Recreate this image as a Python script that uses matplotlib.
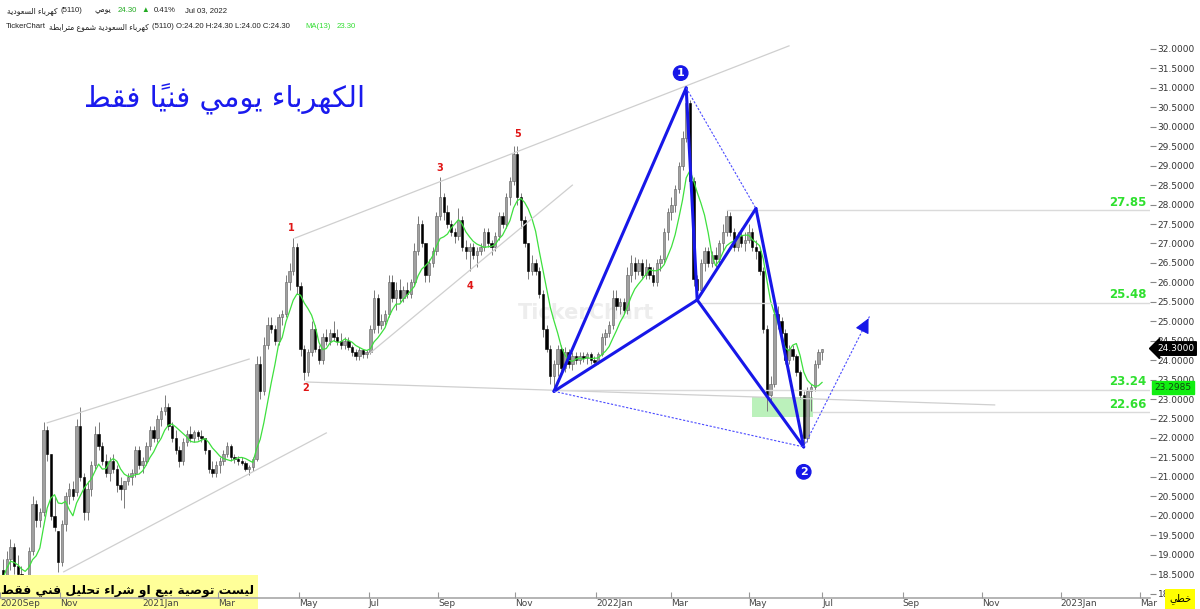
import numpy as np
import pandas as pd
import matplotlib
matplotlib.use('Agg')
import matplotlib.pyplot as plt
import matplotlib.transforms as mtransforms
from matplotlib.patches import Rectangle

# ---------------- data ----------------
# one candle per two trading days, last one is Jul 03, 2022
last_date = '2022-07-03'
opens = [18.6, 18.4, 18.9, 19.2, 18.7, 18.5, 18.1, 18.0, 19.1, 20.3, 19.9, 20.1, 22.2, 21.6,
         20.0, 19.6, 18.8, 19.8, 20.5, 20.7, 20.6, 22.3, 21.0, 20.1, 20.7, 21.3, 22.1, 21.8,
         21.4, 21.1, 21.4, 21.2, 20.8, 20.7, 20.9, 21.0, 21.1, 21.7, 21.3, 21.4, 21.8, 22.2,
         22.0, 22.5, 22.7, 22.8, 22.3, 22.0, 21.7, 21.4, 21.9, 22.1, 22.0, 22.15, 22.05, 22.0,
         21.7, 21.2, 21.1, 21.3, 21.4, 21.6, 21.8, 21.5, 21.45, 21.4, 21.35, 21.2, 21.25, 21.45,
         23.9, 23.2, 24.4, 24.9, 24.8, 24.5, 25.1, 25.2, 26.0, 26.3, 26.9, 25.9, 24.3, 23.7,
         24.2, 24.8, 24.3, 24.0, 24.6, 24.5, 24.7, 24.6, 24.5, 24.4, 24.5, 24.35, 24.2, 24.1,
         24.25, 24.15, 24.2, 24.8, 25.6, 24.9, 25.0, 25.2, 26.0, 25.6, 25.8, 25.6, 25.8, 25.7,
         26.0, 26.8, 27.5, 27.0, 26.2, 26.5, 26.8, 27.7, 28.2, 27.8, 27.5, 27.3, 27.2, 27.6,
         26.9, 26.8, 26.9, 26.7, 26.8, 26.9, 27.3, 27.0, 26.9, 27.2, 27.7, 27.5, 28.2, 28.6,
         29.3, 28.2, 27.6, 27.0, 26.3, 26.5, 26.3, 25.7, 24.8, 24.3, 23.6, 23.9, 24.3, 23.8,
         24.2, 23.9, 24.1, 24.0, 24.1, 24.05, 24.15, 24.0, 23.95, 24.15, 24.6, 24.7, 24.9, 25.6,
         25.4, 25.5, 25.3, 26.2, 26.5, 26.3, 26.5, 26.2, 26.4, 26.2, 26.0, 26.5, 26.6, 27.3,
         27.8, 28.0, 28.4, 29.0, 29.7, 30.6, 28.6, 26.1, 25.8, 26.5, 26.8, 26.5, 26.7, 26.6,
         27.0, 27.3, 27.7, 27.3, 26.9, 27.2, 27.0, 27.1, 27.3, 26.9, 26.8, 26.3, 24.8, 23.1,
         23.4, 25.2, 25.0, 24.7, 24.0, 24.3, 24.1, 23.7, 23.1, 22.0, 23.2, 23.3, 23.9, 24.2]
highs = [18.9, 19.1, 19.4, 19.3, 19.0, 18.7, 18.4, 19.2, 20.5, 20.4, 20.2, 22.4, 22.3, 21.6,
         20.5, 19.6, 19.9, 20.6, 20.85, 20.9, 22.5, 22.8, 21.1, 20.9, 21.4, 22.3, 22.4, 21.9,
         21.6, 21.5, 21.6, 21.3, 21.0, 20.9, 21.1, 21.2, 21.8, 21.8, 21.5, 21.9, 22.3, 22.3,
         22.6, 22.8, 23.1, 22.9, 22.4, 22.2, 21.8, 22.0, 22.2, 22.3, 22.2, 22.2, 22.2, 22.0,
         21.7, 21.4, 21.4, 21.5, 21.7, 21.9, 21.85, 21.6, 21.55, 21.5, 21.4, 21.3, 21.5, 24.1,
         24.1, 24.6, 25.1, 25.1, 24.9, 25.2, 25.3, 26.2, 26.5, 27.15, 27.0, 26.0, 24.4, 24.3,
         25.0, 24.9, 24.4, 24.7, 24.8, 24.8, 25.0, 24.8, 24.7, 24.6, 24.6, 24.4, 24.3, 24.35,
         24.3, 24.25, 24.9, 25.8, 25.7, 25.2, 25.3, 26.2, 26.2, 26.0, 26.1, 25.9, 26.0, 26.1,
         27.0, 27.7, 27.6, 27.0, 26.6, 26.9, 27.8, 28.7, 28.3, 28.0, 27.6, 27.4, 27.9, 27.7,
         27.1, 27.0, 27.0, 26.9, 27.0, 27.4, 27.4, 27.1, 27.3, 27.8, 27.8, 28.3, 28.7, 29.5,
         29.5, 28.3, 27.7, 27.0, 26.7, 26.6, 26.4, 25.8, 24.9, 24.4, 24.0, 24.4, 24.4, 24.35,
         24.3, 24.2, 24.2, 24.2, 24.2, 24.2, 24.2, 24.1, 24.2, 24.7, 24.8, 25.0, 25.8, 25.8,
         25.6, 25.6, 26.4, 26.7, 26.65, 26.6, 26.6, 26.6, 26.5, 26.4, 26.6, 26.7, 27.4, 27.9,
         28.2, 28.5, 29.1, 29.9, 31.0, 30.7, 28.7, 26.2, 26.6, 26.9, 26.9, 26.8, 26.9, 27.1,
         27.5, 27.85, 27.8, 27.4, 27.3, 27.4, 27.3, 27.5, 27.4, 27.1, 26.9, 26.4, 24.9, 23.6,
         25.4, 25.4, 25.1, 24.8, 24.4, 24.4, 24.15, 23.75, 23.2, 23.3, 23.4, 24.0, 24.3, 24.3]
lows = [18.2, 18.3, 18.6, 18.5, 18.3, 17.9, 17.7, 17.8, 19.0, 19.7, 19.7, 20.0, 21.4, 19.9,
        19.6, 18.55, 18.7, 19.6, 20.3, 20.4, 20.5, 20.9, 19.9, 19.9, 20.5, 21.2, 21.7, 21.3,
        21.0, 20.9, 21.1, 20.6, 20.4, 20.2, 20.8, 20.8, 21.0, 21.2, 21.1, 21.3, 21.7, 21.9,
        21.9, 22.3, 22.6, 22.2, 21.9, 21.6, 21.25, 21.3, 21.8, 21.9, 21.9, 21.95, 21.9, 21.6,
        21.1, 21.0, 21.0, 21.1, 21.3, 21.5, 21.4, 21.35, 21.3, 21.3, 21.15, 21.05, 21.15, 21.4,
        23.0, 23.1, 24.3, 24.7, 24.4, 24.4, 24.9, 25.1, 25.8, 26.2, 25.7, 24.1, 23.5, 23.6,
        24.1, 24.2, 23.9, 23.9, 24.4, 24.4, 24.5, 24.4, 24.3, 24.3, 24.25, 24.1, 24.0, 24.0,
        24.05, 24.05, 24.15, 24.7, 24.7, 24.8, 24.9, 25.1, 25.5, 25.3, 25.5, 25.5, 25.6, 25.6,
        25.9, 26.7, 26.9, 26.0, 26.0, 26.4, 26.7, 27.6, 27.6, 27.4, 27.2, 27.0, 27.1, 26.8,
        26.6, 26.3, 26.6, 26.4, 26.7, 26.8, 26.9, 26.7, 26.8, 27.1, 27.4, 27.4, 28.0, 28.5,
        28.0, 27.4, 26.9, 26.1, 26.2, 26.2, 25.6, 24.6, 24.2, 23.4, 23.2, 23.6, 23.7, 23.7,
        23.8, 23.75, 23.9, 23.9, 23.95, 23.9, 23.9, 23.85, 23.9, 24.1, 24.4, 24.6, 24.8, 25.3,
        25.2, 25.2, 25.2, 26.0, 26.1, 26.2, 26.1, 26.1, 26.1, 25.9, 25.9, 26.3, 26.5, 27.1,
        27.6, 27.8, 28.3, 28.9, 29.6, 28.4, 25.9, 25.55, 25.7, 26.3, 26.4, 26.4, 26.4, 26.5,
        26.8, 27.2, 27.2, 26.8, 26.8, 26.9, 26.8, 27.0, 26.8, 26.6, 26.2, 24.7, 22.7, 22.9,
        23.3, 24.8, 24.6, 23.9, 23.9, 24.0, 23.6, 23.0, 21.8, 21.9, 22.7, 23.2, 23.8, 24.0]
closes = [18.4, 18.9, 19.2, 18.7, 18.5, 18.1, 18.2, 19.1, 20.3, 19.9, 20.1, 22.2, 21.6, 20.0,
          19.7, 18.8, 19.8, 20.5, 20.7, 20.5, 22.3, 21.0, 20.1, 20.7, 21.3, 22.1, 21.8, 21.4,
          21.1, 21.4, 21.2, 20.8, 20.7, 20.9, 21.0, 21.1, 21.7, 21.3, 21.4, 21.8, 22.2, 22.0,
          22.5, 22.7, 22.8, 22.3, 22.0, 21.7, 21.4, 21.9, 22.1, 22.0, 22.15, 22.05, 22.0, 21.7,
          21.2, 21.1, 21.3, 21.4, 21.6, 21.8, 21.5, 21.45, 21.4, 21.35, 21.2, 21.25, 21.45, 23.9,
          23.2, 24.4, 24.9, 24.8, 24.5, 25.1, 25.2, 26.0, 26.3, 26.9, 25.9, 24.3, 23.7, 24.2,
          24.8, 24.3, 24.0, 24.6, 24.5, 24.7, 24.6, 24.5, 24.4, 24.5, 24.35, 24.2, 24.1, 24.25,
          24.15, 24.2, 24.8, 25.6, 24.9, 25.0, 25.2, 26.0, 25.6, 25.8, 25.6, 25.8, 25.7, 26.0,
          26.8, 27.5, 27.0, 26.2, 26.5, 26.8, 27.7, 28.2, 27.8, 27.5, 27.3, 27.2, 27.6, 26.9,
          26.8, 26.9, 26.7, 26.8, 26.9, 27.3, 27.0, 26.9, 27.2, 27.7, 27.5, 28.2, 28.6, 29.3,
          28.2, 27.6, 27.0, 26.3, 26.5, 26.3, 25.7, 24.8, 24.3, 23.6, 23.9, 24.3, 23.8, 24.2,
          23.9, 24.1, 24.0, 24.1, 24.05, 24.15, 24.0, 23.95, 24.15, 24.6, 24.7, 24.9, 25.6, 25.4,
          25.5, 25.3, 26.2, 26.5, 26.3, 26.5, 26.2, 26.4, 26.2, 26.0, 26.5, 26.6, 27.3, 27.8,
          28.0, 28.4, 29.0, 29.7, 30.6, 28.6, 26.1, 25.8, 26.5, 26.8, 26.5, 26.7, 26.6, 27.0,
          27.3, 27.7, 27.3, 26.9, 27.2, 27.0, 27.1, 27.3, 26.9, 26.8, 26.3, 24.8, 23.1, 23.4,
          25.2, 25.0, 24.7, 24.0, 24.3, 24.1, 23.7, 23.1, 22.0, 23.2, 23.3, 23.9, 24.2, 24.3]
ma_window = 7          # MA(13) of daily bars ~ 7 two-day bars
last_price = 24.30
ma_last = 23.2985

# harmonic pattern X, A, B, C, D
pattern_dates = ['2021-11-30', '2022-03-13', '2022-03-21', '2022-05-12', '2022-06-19']
pattern_prices = [23.2, 31.0, 25.55, 27.9, 21.77]
target_date, target_price = '2022-08-08', 25.14

# light grey trend / channel lines (start, end)
trend_start_dates = ['2020-11-03', '2020-10-21', '2021-04-28', '2021-07-04', '2021-05-06']
trend_start_prices = [18.56, 22.39, 27.14, 24.19, 23.44]
trend_end_dates = ['2021-05-31', '2021-03-24', '2022-06-07', '2021-12-14', '2022-11-10']
trend_end_prices = [22.13, 24.03, 32.08, 28.50, 22.85]

levels = [27.85, 25.48, 23.24, 22.66]
level_starts = ['2022-04-12', '2022-03-22', '2021-11-30', '2022-06-26']
zone_dates = ['2022-05-10', '2022-06-26']
zone_prices = [22.55, 23.05]

wave_labels = ['1', '2', '3', '4', '5']
wave_dates = ['2021-04-26', '2021-05-06', '2021-09-02', '2021-09-27', '2021-11-02']
wave_prices = [27.4, 23.29, 28.94, 25.91, 29.81]
point_labels = ['1', '2']
point_dates = ['2022-03-08', '2022-06-19']
point_prices = [31.38, 21.13]

holidays = ['2020-09-23', '2021-05-12', '2021-05-13', '2021-05-16', '2021-05-17',
            '2021-05-18', '2021-05-19', '2021-07-18', '2021-07-19', '2021-07-20',
            '2021-07-21', '2021-07-22', '2021-07-25', '2021-09-23', '2022-02-22',
            '2022-04-28', '2022-05-01', '2022-05-02', '2022-05-03', '2022-05-04',
            '2022-05-05']


# ---------------- arabic shaping (no bidi lib available) ----------------
AR_FORMS = {
    'ء': (0xFE80, 1), 'آ': (0xFE81, 2), 'أ': (0xFE83, 2), 'ؤ': (0xFE85, 2),
    'إ': (0xFE87, 2), 'ئ': (0xFE89, 4), 'ا': (0xFE8D, 2), 'ب': (0xFE8F, 4),
    'ة': (0xFE93, 2), 'ت': (0xFE95, 4), 'ث': (0xFE99, 4), 'ج': (0xFE9D, 4),
    'ح': (0xFEA1, 4), 'خ': (0xFEA5, 4), 'د': (0xFEA9, 2), 'ذ': (0xFEAB, 2),
    'ر': (0xFEAD, 2), 'ز': (0xFEAF, 2), 'س': (0xFEB1, 4), 'ش': (0xFEB5, 4),
    'ص': (0xFEB9, 4), 'ض': (0xFEBD, 4), 'ط': (0xFEC1, 4), 'ظ': (0xFEC5, 4),
    'ع': (0xFEC9, 4), 'غ': (0xFECD, 4), 'ف': (0xFED1, 4), 'ق': (0xFED5, 4),
    'ك': (0xFED9, 4), 'ل': (0xFEDD, 4), 'م': (0xFEE1, 4), 'ن': (0xFEE5, 4),
    'ه': (0xFEE9, 4), 'و': (0xFEED, 2), 'ى': (0xFEEF, 2), 'ي': (0xFEF1, 4),
}


def arabic(text):
    clusters = []
    for ch in text:
        if '\u064b' <= ch <= '\u0652' and clusters:
            clusters[-1] += ch
        else:
            clusters.append(ch)
    shaped = []
    for j, cl in enumerate(clusters):
        ch = cl[0]
        if ch not in AR_FORMS:
            shaped.append(cl)
            continue
        base, n = AR_FORMS[ch]
        prev = clusters[j - 1][0] if j > 0 else ''
        nxt = clusters[j + 1][0] if j + 1 < len(clusters) else ''
        jp = n > 1 and (prev == 'ـ' or (prev in AR_FORMS and AR_FORMS[prev][1] == 4))
        jn = n == 4 and (nxt == 'ـ' or (nxt in AR_FORMS and AR_FORMS[nxt][1] > 1))
        if jp and jn:
            form = base + 3
        elif jp:
            form = base + 1
        elif jn:
            form = base + 2
        else:
            form = base
        shaped.append(chr(form) + cl[1:])
    return ''.join(reversed(shaped))


# ---------------- trading day axis ----------------
tdays = pd.bdate_range('2020-08-01', '2023-04-30', freq='C',
                       weekmask='Sun Mon Tue Wed Thu', holidays=holidays)


def pos(d):
    return tdays.searchsorted(pd.Timestamp(d))


n = len(closes)
last_pos = pos(last_date)
xs = last_pos - 2 * np.arange(n - 1, -1, -1)
o = np.array(opens)
h = np.array(highs)
l = np.array(lows)
c = np.array(closes)
ma = pd.Series(closes).rolling(ma_window, min_periods=1).mean()

xmin, xmax = last_pos - 447.7, last_pos + 178.6
ymin, ymax = 17.887, 32.231

W, H = 1200, 609
fig = plt.figure(figsize=(W / 100, H / 100), dpi=100)
fig.patch.set_facecolor('white')
ax = fig.add_axes([0, 11 / H, 1150 / W, 558 / H])
ax.set_xlim(xmin, xmax)
ax.set_ylim(ymin, ymax)
ax.set_axisbelow(False)

# candles
up = c >= o
body_lo = np.minimum(o, c)
body_h = np.maximum(np.abs(c - o), 0.03)
ax.vlines(xs, l, h, color='#7a7a7a', lw=0.7, zorder=1.1)
ax.bar(xs[up], body_h[up], bottom=body_lo[up], width=1.3, color='#a0a0a0',
       edgecolor='#606060', linewidth=0.4, zorder=1.2)
ax.bar(xs[~up], body_h[~up], bottom=body_lo[~up], width=1.3, color='black',
       edgecolor='black', linewidth=0.4, zorder=1.2)
ax.plot(xs, ma, color='#3ee03e', lw=0.9, zorder=1.3)

# grey trend lines
for d0, p0, d1, p1 in zip(trend_start_dates, trend_start_prices, trend_end_dates, trend_end_prices):
    ax.plot([pos(d0), pos(d1)], [p0, p1], color='#cfcfcf', lw=0.9, zorder=1.4)

# horizontal levels + labels
bt = mtransforms.blended_transform_factory(ax.transAxes, ax.transData)
for lev, d0 in zip(levels, level_starts):
    ax.plot([pos(d0), xmax], [lev, lev], color='#dadada', lw=1.0, zorder=1.4)
    ax.text(0.997, lev + 0.21, f'{lev:.2f}', transform=bt, ha='right', va='center',
            color='#2fe02f', fontsize=8.5, fontweight='bold', zorder=3)

ax.add_patch(Rectangle((pos(zone_dates[0]), zone_prices[0]),
                       pos(zone_dates[1]) - pos(zone_dates[0]), zone_prices[1] - zone_prices[0],
                       facecolor='#8ee88e', alpha=0.6, edgecolor='none', zorder=1.0))

# harmonic pattern
px_ = [pos(d) for d in pattern_dates]
py_ = pattern_prices
blue = '#1717e8'
for a, b in [(0, 1), (1, 2), (0, 2), (2, 3), (3, 4), (2, 4)]:
    ax.plot([px_[a], px_[b]], [py_[a], py_[b]], color=blue, lw=2.2,
            solid_capstyle='round', zorder=3)
for a, b in [(1, 3), (0, 4)]:
    ax.plot([px_[a], px_[b]], [py_[a], py_[b]], color='#4a4aff', lw=0.8,
            ls=(0, (2, 1.5)), zorder=3)
ax.plot([px_[4], pos(target_date)], [py_[4], target_price], color='#4a4aff', lw=0.8,
        ls=(0, (2, 1.5)), zorder=3)
tx, ty = pos(target_date), target_price
dx, dy = tx - px_[4], ty - py_[4]
ax.annotate('', xy=(tx, ty), xytext=(tx - dx * 0.06, ty - dy * 0.06),
            arrowprops=dict(arrowstyle='-|>,head_length=0.9,head_width=0.45',
                            color=blue, lw=0.8), zorder=3)

for t, d, p in zip(point_labels, point_dates, point_prices):
    ax.text(pos(d), p, t, ha='center', va='center', color='white', fontsize=8,
            fontweight='bold', zorder=4,
            bbox=dict(boxstyle='circle,pad=0.2', fc=blue, ec=blue))

for t, d, p in zip(wave_labels, wave_dates, wave_prices):
    ax.text(pos(d), p, t, ha='center', va='center', color='#e01515', fontsize=7,
            fontweight='bold', zorder=3)

# watermark
ax.text(0.51, 0.51, 'TickerChart', transform=ax.transAxes, ha='center', va='center',
        fontsize=15, fontweight='bold', color='#ededed', zorder=0.5)

# axes styling
for s in ['top', 'left', 'right']:
    ax.spines[s].set_visible(False)
ax.spines['bottom'].set_color('#a8a8a8')
ax.spines['bottom'].set_linewidth(1.2)

ax.yaxis.tick_right()
yt = np.arange(18.0, 32.01, 0.5)
ax.set_yticks(yt, [f'{v:.4f}' for v in yt])
ax.tick_params(axis='y', labelsize=6.5, labelcolor='#333333', length=4, color='#888888',
               pad=1.5, direction='out')

months = pd.date_range('2020-09-01', '2023-03-01', freq='2MS')
mpos = [max(pos(m), xmin) for m in months]
mlab = [f'{m.year}{m:%b}' if (m.month == 1 or i == 0) else f'{m:%b}' for i, m in enumerate(months)]
ax.set_xticks(mpos, mlab)
ax.tick_params(axis='x', labelsize=6.5, labelcolor='#444444', length=4, color='#999999',
               pad=1, direction='in')
for lab in ax.get_xticklabels():
    lab.set_horizontalalignment('left')

# last price / MA tags
ax.text(1.006, last_price, f'{last_price:.4f}', transform=bt, ha='left', va='center',
        color='white', fontsize=6.5, zorder=5, clip_on=False,
        bbox=dict(boxstyle='larrow,pad=0.25', fc='black', ec='black'))
ax.text(1.004, ma_last, f'{ma_last:.4f}', transform=bt, ha='left', va='center',
        color='#114411', fontsize=6.5, zorder=5, clip_on=False,
        bbox=dict(boxstyle='square,pad=0.25', fc='#11ee11', ec='#11ee11'))

# disclaimer box bottom left
ax.add_patch(Rectangle((0, -0.02), 258 / 1150, 0.062, transform=ax.transAxes,
                       facecolor='#ffff99', edgecolor='none', clip_on=False, zorder=2.2))
ax.text(0.111, 0.013, arabic('ليست توصية بيع او شراء تحليل فني فقط'), transform=ax.transAxes,
        ha='center', va='center', fontsize=8.9, fontweight='bold', color='black', zorder=3)

fig.text(1180 / W, 1 - 599 / H, arabic('خطي'), ha='center', va='center', fontsize=7,
         color='black', zorder=5,
         bbox=dict(boxstyle='square,pad=0.45', fc='#ffff00', ec='none'))

# title
fig.text(225 / W, 1 - 99 / H, arabic('الكهرباء يومي فنياً فقط'), ha='center', va='center',
         fontsize=21, color='#1a1aee')

# header lines, pieces laid out one after the other
renderer = fig.canvas.get_renderer()
dark, green = '#222222', '#22aa22'


def header(x, y, pieces):
    for s, col, gap in pieces:
        t = fig.text(x / W, 1 - y / H, s, ha='left', va='center', fontsize=5.6, color=col,
                     family=['Liberation Sans', 'DejaVu Sans'])
        x = t.get_window_extent(renderer).x1 + gap


header(7, 11, [(arabic('كهرباء السعودية'), dark, 3), ('(5110)', dark, 12),
               (arabic('يومي'), dark, 6), ('24.30', green, 5), ('▲', green, 5),
               ('0.41%', dark, 9), ('Jul 03, 2022', dark, 0)])
header(6, 27, [('TickerChart', dark, 3), (arabic('كهرباء السعودية شموع مترابطة'), dark, 3),
               ('(5110) O:24.20 H:24.30 L:24.00 C:24.30', dark, 16),
               ('MA(13)', '#33dd33', 5), ('23.30', '#33dd33', 0)])

fig.savefig('out.png', dpi=100, facecolor='white')
